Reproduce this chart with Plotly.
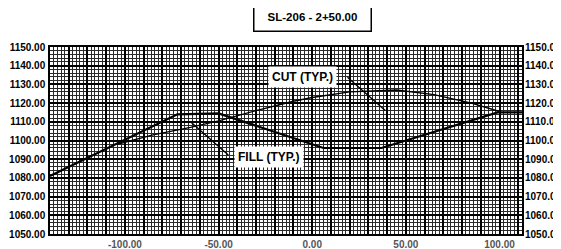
import plotly.graph_objects as go

# ---- data ----
section_x = [-140, -72, -50, 6, 37, 99, 112]
section_y = [1081, 1114, 1114.5, 1096, 1096, 1115, 1115]

ground_x = [-104, -85, -65, -50, -30, -10, 0, 20, 45, 65, 85, 100]
ground_y = [1098, 1103, 1107, 1110.5, 1116, 1121, 1123, 1126, 1127, 1124.5, 1120, 1115.5]

x_grid_vals = list(range(-140, 111, 10))
x_label_vals = [-100, -50, 0, 50, 100]
x_tick_text = [f"{v:.2f}" if v in x_label_vals else "" for v in x_grid_vals]

y_range = [1050, 1150]
x_range = [-140, 112]

title_text = "SL-206 - 2+50.00"
cut_label = "CUT (TYP.)"
fill_label = "FILL (TYP.)"

FONT = "Liberation Sans"

fig = go.Figure()
fig.add_trace(go.Scatter(x=ground_x, y=ground_y, mode="lines",
                         line=dict(color="black", width=1.4), hoverinfo="skip",
                         showlegend=False))
fig.add_trace(go.Scatter(x=section_x, y=section_y, mode="lines",
                         line=dict(color="black", width=2.2), hoverinfo="skip",
                         showlegend=False))
# invisible trace to carry the right-hand axis
fig.add_trace(go.Scatter(x=[section_x[0]], y=[section_y[0]], yaxis="y2",
                         mode="markers", marker=dict(opacity=0), hoverinfo="skip",
                         showlegend=False))

# white bands at the labelled stations
for v in x_label_vals:
    fig.add_shape(type="line", xref="x", yref="paper", x0=v, x1=v, y0=0, y1=1,
                  line=dict(color="white", width=3), layer="between")

label_font = dict(family=FONT, size=10, color="black", weight="bold")

# the page body adds an 8 px offset, so the figure is sized to compensate
fig.update_layout(
    width=553, height=241,
    margin=dict(l=42, r=39, t=39, b=15),
    paper_bgcolor="white", plot_bgcolor="white",
    xaxis=dict(range=x_range, tickmode="array", tickvals=x_grid_vals,
               ticktext=x_tick_text, showgrid=True, gridcolor="black",
               gridwidth=1.6, zeroline=False, showline=True, linecolor="black",
               linewidth=1.5, mirror=True, ticks="", automargin=False,
               tickfont=dict(family=FONT, size=10, color="#555", weight="bold"),
               ticklabelstandoff=0,
               minor=dict(dtick=2, tick0=0, showgrid=True, gridcolor="#2a2a2a",
                          gridwidth=1)),
    yaxis=dict(range=y_range, dtick=10, tickformat=".2f", showgrid=True,
               gridcolor="black", gridwidth=2, zeroline=False, showline=True,
               linecolor="black", linewidth=1.5, mirror=True, ticks="",
               automargin=False, tickfont=label_font, ticklabelstandoff=1,
               minor=dict(dtick=2, tick0=1050, showgrid=True, gridcolor="#2a2a2a",
                          gridwidth=1)),
    yaxis2=dict(range=y_range, dtick=10, tickformat=".2f", overlaying="y",
                side="right", showgrid=False, zeroline=False, ticks="",
                automargin=False, tickfont=label_font, ticklabelstandoff=2),
    font=dict(family=FONT),
)

fig.add_annotation(text=title_text, xref="x", yref="paper", x=0, y=1.16,
                   xanchor="center", yanchor="middle",
                   showarrow=False, font=dict(family=FONT, size=11.5, color="black",
                                              weight="bold"),
                   bordercolor="black", borderwidth=1.5, borderpad=3,
                   bgcolor="white", width=110, height=21)

fig.add_annotation(text=cut_label, x=-5, y=1134, showarrow=False,
                   font=dict(family=FONT, size=12, color="black", weight="bold"),
                   bgcolor="white", borderpad=3)
fig.add_annotation(text="", x=39, y=1116, ax=18, ay=1134.5, axref="x", ayref="y",
                   showarrow=True, arrowhead=0, arrowwidth=1.3, arrowcolor="black")

fig.add_annotation(text=fill_label, x=-23, y=1091, showarrow=False,
                   font=dict(family=FONT, size=12, color="black", weight="bold"),
                   bgcolor="white", borderpad=3)
fig.add_annotation(text="", x=-65, y=1110, ax=-44, ay=1091.5, axref="x", ayref="y",
                   showarrow=True, arrowhead=0, arrowwidth=1.3, arrowcolor="black")

fig.write_html("out.html")
